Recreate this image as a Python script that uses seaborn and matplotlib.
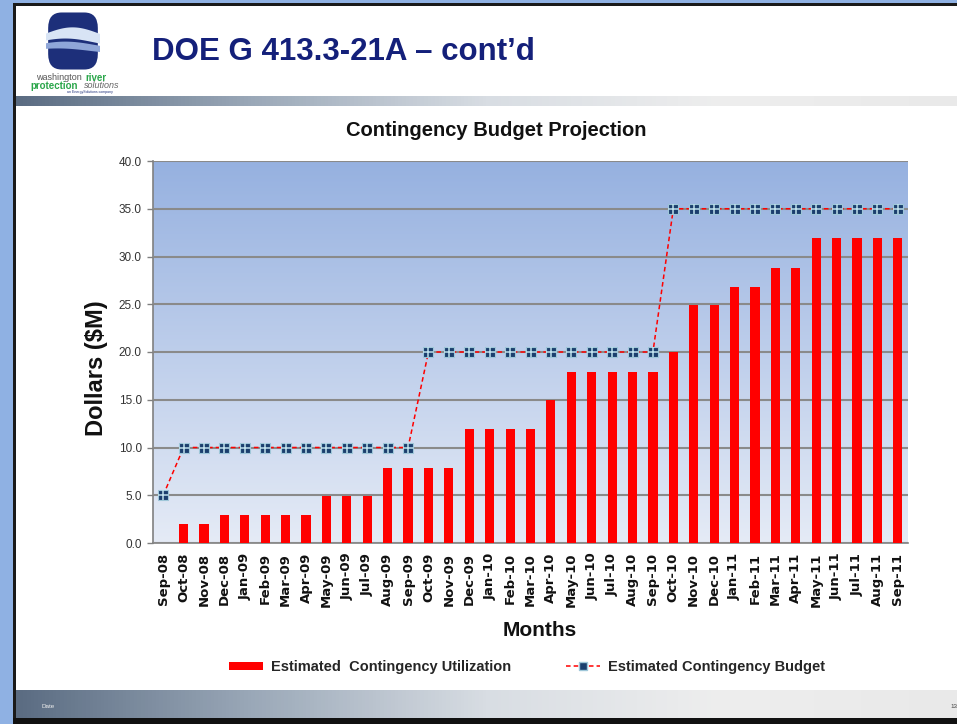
import numpy as np
import pandas as pd
import seaborn as sns
import matplotlib
matplotlib.use("Agg")
import matplotlib.pyplot as plt
from matplotlib.patches import Rectangle, FancyBboxPatch, Patch, Polygon
from matplotlib.lines import Line2D
from matplotlib.colors import LinearSegmentedColormap

months = ["Sep-08", "Oct-08", "Nov-08", "Dec-08", "Jan-09", "Feb-09", "Mar-09", "Apr-09",
          "May-09", "Jun-09", "Jul-09", "Aug-09", "Sep-09", "Oct-09", "Nov-09", "Dec-09",
          "Jan-10", "Feb-10", "Mar-10", "Apr-10", "May-10", "Jun-10", "Jul-10", "Aug-10",
          "Sep-10", "Oct-10", "Nov-10", "Dec-10", "Jan-11", "Feb-11", "Mar-11", "Apr-11",
          "May-11", "Jun-11", "Jul-11", "Aug-11", "Sep-11"]
utilization = [0.0, 2.0, 2.0, 2.9, 2.9, 2.9, 2.9, 2.9,
               4.9, 4.9, 4.9, 7.9, 7.9, 7.9, 7.9, 11.9,
               11.9, 11.9, 11.9, 15.0, 17.9, 17.9, 17.9, 17.9,
               17.9, 20.0, 24.9, 24.9, 26.8, 26.8, 28.8, 28.8,
               31.9, 31.9, 31.9, 31.9, 31.9]
budget = [5, 10, 10, 10, 10, 10, 10, 10, 10, 10, 10, 10, 10,
          20, 20, 20, 20, 20, 20, 20, 20, 20, 20, 20, 20,
          35, 35, 35, 35, 35, 35, 35, 35, 35, 35, 35, 35]
y_ticks = [0, 5, 10, 15, 20, 25, 30, 35, 40]

df = pd.DataFrame({"month": months, "util": utilization, "budget": budget,
                   "pos": np.arange(len(months))})

sns.set_theme(style="white")
plt.rcParams["font.family"] = ["Liberation Sans", "DejaVu Sans"]

W, H = 957, 724
fig = plt.figure(figsize=(W / 100, H / 100), dpi=100)
fig.patch.set_facecolor("white")

def fx(x):
    return x / W

def fy(y):
    return 1 - y / H

def frect(x0, y0, x1, y1, **kw):
    fig.patches.append(Rectangle((fx(x0), fy(y1)), fx(x1 - x0), fy(y0) - fy(y1),
                                 transform=fig.transFigure, **kw))

# slide frame
frect(0, 0, 15, H, facecolor="#8fb1e3", edgecolor="none", zorder=0)
frect(0, 0, W, 3, facecolor="#8fb1e3", edgecolor="none", zorder=0)
frect(13, 3, 16, H, facecolor="#1a1a1a", edgecolor="none", zorder=1)
frect(13, 3, W, 6, facecolor="#1a1a1a", edgecolor="none", zorder=1)
frect(13, 718, W, H, facecolor="#111111", edgecolor="none", zorder=1)

# gradient bands (header rule and footer)
band_cmap = LinearSegmentedColormap.from_list(
    "band", ["#5b6c82", "#9aa8b8", "#d8dde3", "#eeeeee", "#e9e9e9"])
grad = np.linspace(0, 1, 256).reshape(1, -1)
hdr = fig.add_axes([fx(16), fy(106), fx(W - 16), fy(96) - fy(106)], zorder=1)
hdr.imshow(grad, aspect="auto", cmap=band_cmap, extent=[0, 1, 0, 1])
hdr.axis("off")
ftr = fig.add_axes([fx(16), fy(718), fx(W - 16), fy(690) - fy(718)], zorder=1)
ftr.imshow(grad, aspect="auto", cmap=band_cmap, extent=[0, 1, 0, 1])
ftr.axis("off")
fig.text(fx(42), fy(706), "Date", fontsize=4.5, color="#eeeeee", va="center")
fig.text(fx(950), fy(706), "13", fontsize=4.5, color="#444444", va="center")

# logo
logo = fig.add_axes([fx(46), fy(72), fx(54), fy(10) - fy(72)], zorder=2)
logo.set_xlim(0, 1)
logo.set_ylim(0, 1)
logo.axis("off")
logo.add_patch(FancyBboxPatch((0.04, 0.04), 0.92, 0.92,
                              boxstyle="round,pad=0,rounding_size=0.25",
                              facecolor="#1d2f7a", edgecolor="none"))
xs = np.linspace(0.0, 1.0, 60)
top1 = 0.62 + 0.10 * np.sin(xs * 3.2)
bot1 = 0.48 + 0.06 * np.sin(xs * 3.0 + 0.5)
logo.add_patch(Polygon(np.column_stack([np.r_[xs, xs[::-1]], np.r_[top1, bot1[::-1]]]),
                       facecolor="#d8e4f5", edgecolor="none"))
top2 = 0.44 + 0.05 * np.sin(xs * 3.0 + 0.5)
bot2 = 0.34 + 0.04 * np.sin(xs * 2.6 + 1.0)
logo.add_patch(Polygon(np.column_stack([np.r_[xs, xs[::-1]], np.r_[top2, bot2[::-1]]]),
                       facecolor="#8fa6d8", edgecolor="none"))
fig.text(fx(36), fy(78), "washington", fontsize=6.5, color="#555555", va="center")
fig.text(fx(85), fy(78), "river", fontsize=7, color="#2aa64a", va="center", weight="bold")
fig.text(fx(30), fy(86), "protection", fontsize=7, color="#2aa64a", va="center", weight="bold")
fig.text(fx(84), fy(86), "solutions", fontsize=6.5, color="#666666", va="center", style="italic")
fig.text(fx(67), fy(92), "an EnergySolutions company", fontsize=2.5, color="#1d2f7a", va="center")

# slide title
fig.text(fx(152), fy(52), "DOE G 413.3-21A \u2013 cont\u2019d", fontsize=22.5,
         weight="bold", color="#14207a", va="center")

# chart title
fig.text(fx(496), fy(130), "Contingency Budget Projection", fontsize=14.5,
         weight="bold", color="#111111", ha="center", va="center")

# chart
ax = fig.add_axes([fx(153), fy(543), fx(908 - 153), fy(161) - fy(543)], zorder=3)
bg_cmap = LinearSegmentedColormap.from_list("bg", ["#e5ebf6", "#96b1e0"])
ax.imshow(np.linspace(0, 1, 256).reshape(-1, 1), aspect="auto", cmap=bg_cmap,
          origin="lower", extent=[-0.5, len(months) - 0.5, 0, 40], zorder=0)

sns.barplot(data=df, x="month", y="util", color="#ff0000", saturation=1,
            width=0.45, ax=ax, zorder=3, edgecolor="none")
sns.lineplot(data=df, x="pos", y="budget", ax=ax, color="#ff0000", lw=1.1,
             dashes=(3, 2), zorder=4)
ax.plot(df["pos"], df["budget"], ls="none", marker="s", ms=6.5,
        mfc="#1b3f6e", mec="#9fc7d9", mew=0.8, zorder=5)
ax.plot(df["pos"], df["budget"], ls="none", marker="+", ms=6.5,
        mec="#bfe0ec", mew=1.1, zorder=6)

ax.set_xlim(-0.5, len(months) - 0.5)
ax.set_ylim(0, 40)
ax.set_yticks(y_ticks)
ax.set_yticklabels([f"{v:.1f}" for v in y_ticks], fontsize=8.5, color="#333333")
ax.set_xticks(np.arange(len(months)))
ax.set_xticklabels(months, rotation=90, fontsize=9.5, weight="bold", color="#111111",
                   family=["DejaVu Sans"])
ax.set_xticks(np.arange(len(months) + 1) - 0.5, minor=True)
ax.tick_params(axis="x", which="major", length=0, pad=7)
ax.tick_params(axis="x", which="minor", length=4, color="#808080", width=1, direction="out")
ax.tick_params(axis="y", length=4, color="#808080", width=1, direction="out", pad=4, left=True)
ax.yaxis.grid(True, color="#8a8a8a", lw=1.5, zorder=1)
ax.set_axisbelow(False)
for gl in ax.get_ygridlines():
    gl.set_zorder(1)
for s in ["left", "bottom"]:
    ax.spines[s].set_color("#808080")
    ax.spines[s].set_linewidth(1.2)
for s in ["top", "right"]:
    ax.spines[s].set_visible(False)
ax.set_xlabel("")
ax.set_ylabel("")
fig.text(fx(540), fy(631), "Months", fontsize=15, weight="bold", color="#111111",
         ha="center", va="center")
fig.text(fx(97), fy(368), "Dollars ($M)", fontsize=17, weight="bold", color="#111111",
         ha="center", va="center", rotation=90)

handles = [Patch(facecolor="#ff0000", edgecolor="none"),
           Line2D([0], [0], color="#ff0000", lw=1.1, dashes=(3, 2), marker="s", ms=6,
                  mfc="#1b3f6e", mec="#9fc7d9")]
labels = ["Estimated  Contingency Utilization", "Estimated Contingency Budget"]
leg = fig.legend(handles, labels, loc="center", bbox_to_anchor=(fx(527), fy(667)),
                 ncol=2, frameon=False, fontsize=10.5, columnspacing=3.8,
                 handlelength=2.3, handleheight=0.45, handletextpad=0.55)
for t in leg.get_texts():
    t.set_weight("bold")

fig.savefig("out.png", dpi=100)
